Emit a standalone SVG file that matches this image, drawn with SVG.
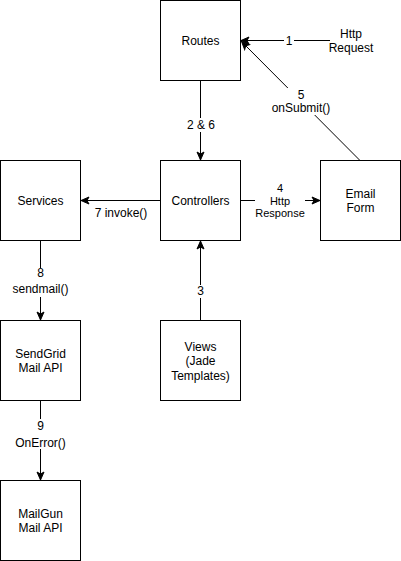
<svg xmlns="http://www.w3.org/2000/svg" width="401" height="561" viewBox="0 0 401 561">
<style>
.box{fill:#fff;stroke:#000;stroke-width:1}
.t{font-family:"Liberation Sans",Arial,Helvetica,sans-serif;font-size:12px;fill:#000;text-anchor:middle}
.s{font-size:11px}
.e{fill:none;stroke:#000;stroke-width:1}
.bg{fill:#fff;stroke:none}
</style>
<defs>
<marker id="arr" markerUnits="userSpaceOnUse" markerWidth="10" markerHeight="10" viewBox="0 0 10 10" refX="9" refY="5" orient="auto">
<path d="M1,1.5 L9,5 L1,8.5 L3,5 Z" fill="#000" stroke="#000" stroke-width="1"/>
</marker>
</defs>
<rect width="401" height="561" fill="#fff"/>
<g id="connectors">
<path class="e" d="M330,40.5 L241,40.5" marker-end="url(#arr)"/>
<path class="e" d="M360,160.5 L241.5,41.5" marker-end="url(#arr)"/>
<path class="e" d="M200.5,80.5 L200.5,160" marker-end="url(#arr)"/>
<path class="e" d="M160.5,200.5 L81,200.5" marker-end="url(#arr)"/>
<path class="e" d="M240.5,200.5 L320,200.5" marker-end="url(#arr)"/>
<path class="e" d="M40.5,240.5 L40.5,320" marker-end="url(#arr)"/>
<path class="e" d="M200.5,320.5 L200.5,241" marker-end="url(#arr)"/>
<path class="e" d="M40.5,400.5 L40.5,480" marker-end="url(#arr)"/>
<rect class="bg" x="284" y="34" width="10" height="13"/>
<text class="t" x="289" y="44.5">1</text>
<rect class="bg" x="272" y="88" width="60" height="27"/>
<text class="t" x="301" y="98.5">5</text>
<text class="t" x="301" y="112">onSubmit()</text>
<rect class="bg" x="186" y="118" width="30" height="14"/>
<text class="t" x="201" y="129">2 &amp; 6</text>
<text class="t" x="121" y="216.5">7 invoke()</text>
<rect class="bg" x="255" y="181" width="50" height="40"/>
<text class="t s" x="280" y="192">4</text>
<text class="t s" x="280" y="204.5">Http</text>
<text class="t s" x="280" y="217">Response</text>
<rect class="bg" x="10" y="268" width="60" height="29"/>
<text class="t" x="40.5" y="277">8</text>
<text class="t" x="40.5" y="293">sendmail()</text>
<rect class="bg" x="194" y="285" width="13" height="13"/>
<text class="t" x="200.5" y="295">3</text>
<rect class="bg" x="12" y="419" width="57" height="30"/>
<text class="t" x="40.5" y="430">9</text>
<text class="t" x="40.5" y="446.5">OnError()</text>
</g>
<g id="http-request">
<text class="t" x="351" y="38">Http</text>
<text class="t" x="351" y="52.3">Request</text>
</g>
<g id="routes">
<rect class="box" x="160.5" y="0.5" width="80" height="80"/>
<text class="t" x="200.5" y="44.5">Routes</text>
</g>
<g id="controllers">
<rect class="box" x="160.5" y="160.5" width="80" height="80"/>
<text class="t" x="200.5" y="204.5">Controllers</text>
</g>
<g id="services">
<rect class="box" x="0.5" y="160.5" width="80" height="80"/>
<text class="t" x="40.5" y="204.5">Services</text>
</g>
<g id="email-form">
<rect class="box" x="320.5" y="160.5" width="80" height="80"/>
<text class="t" x="360.5" y="197.5">Email</text>
<text class="t" x="360.5" y="211.8">Form</text>
</g>
<g id="sendgrid">
<rect class="box" x="0.5" y="320.5" width="80" height="80"/>
<text class="t" x="40.5" y="358">SendGrid</text>
<text class="t" x="40.5" y="372">Mail API</text>
</g>
<g id="views">
<rect class="box" x="160.5" y="320.5" width="80" height="80"/>
<text class="t" x="200.5" y="351">Views</text>
<text class="t" x="200.5" y="365">(Jade</text>
<text class="t" x="200.5" y="379.5">Templates)</text>
</g>
<g id="mailgun">
<rect class="box" x="0.5" y="480.5" width="80" height="80"/>
<text class="t" x="40.5" y="518">MailGun</text>
<text class="t" x="40.5" y="532">Mail API</text>
</g>
</svg>
